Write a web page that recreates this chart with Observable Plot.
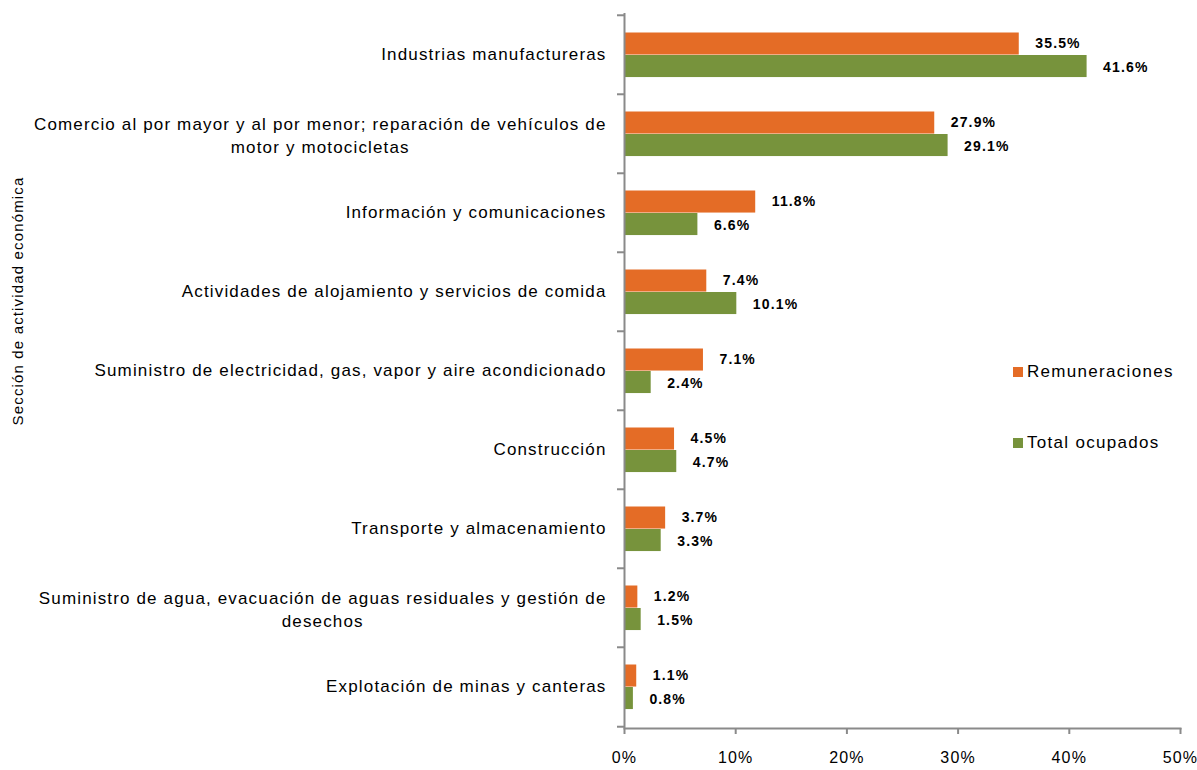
<!DOCTYPE html>
<html>
<head>
<meta charset="utf-8">
<script src="https://cdn.jsdelivr.net/npm/d3@7"></script>
<script src="https://cdn.jsdelivr.net/npm/@observablehq/plot@0.6"></script>
<style>
  body { margin: 0; background: #fff; }
  #wrap { position: relative; width: 1197px; height: 770px; }
  .legend { position: absolute; left: 1013px; font-family: "Liberation Sans", Arial, sans-serif; font-size: 17px; letter-spacing: 1.3px; color: #000; display: flex; align-items: center; }
  .legend span.sw { display: inline-block; width: 10px; height: 10px; margin-right: 4px; }
</style>
</head>
<body>
<div id="wrap"></div>
<script>
const categories = [
  "Industrias manufactureras",
  "Comercio al por mayor y al por menor; reparación de vehículos de\nmotor y motocicletas",
  "Información y comunicaciones",
  "Actividades de alojamiento y servicios de comida",
  "Suministro de electricidad, gas, vapor y aire acondicionado",
  "Construcción",
  "Transporte y almacenamiento",
  "Suministro de agua, evacuación de aguas residuales y gestión de\ndesechos",
  "Explotación de minas y canteras"
];
const remuneraciones = [35.5, 27.9, 11.8, 7.4, 7.1, 4.5, 3.7, 1.2, 1.1];
const totalOcupados = [41.6, 29.1, 6.6, 10.1, 2.4, 4.7, 3.3, 1.5, 0.8];
const seriesNames = ["Remuneraciones", "Total ocupados"];
const seriesColors = ["#E46C26", "#77933C"];
const xTicks = [0, 10, 20, 30, 40, 50];
const yTitle = "Sección de actividad económica";

const W = 1197, H = 770;
const mTop = 13, mBottom = 42, mLeft = 624, mRight = 17;
const step = (H - mTop - mBottom) / categories.length;
const gray = "#8A8A8A";
const labelFont = "Liberation Sans, Arial, sans-serif";
const labelSize = 17, labelSpacing = 1.15;

const rem = categories.map((c, i) => ({cat: c, serie: seriesNames[0], value: remuneraciones[i]}));
const ocu = categories.map((c, i) => ({cat: c, serie: seriesNames[1], value: totalOcupados[i]}));

// measure text for centred multi-line labels
const ctx = document.createElement("canvas").getContext("2d");
ctx.font = `${labelSize}px "Liberation Sans"`;
try { ctx.letterSpacing = labelSpacing + "px"; } catch (e) {}
function widthOf(s) { return ctx.measureText(s).width; }

const single = categories.filter(c => !c.includes("\n"));
const multi = categories.filter(c => c.includes("\n"));

const labelMarks = [
  Plot.text(single, {y: d => d, frameAnchor: "left", textAnchor: "end", dx: -18, fontSize: labelSize, fill: "#000"})
];
for (const c of multi) {
  const first = c.split("\n")[0];
  const w1 = widthOf(first);
  labelMarks.push(Plot.text([c], {y: d => d, frameAnchor: "left", textAnchor: "middle", dx: -18 - w1 / 2, fontSize: labelSize, lineHeight: 1.35, fill: "#000"}));
}

const chart = Plot.plot({
  width: W, height: H,
  marginTop: mTop, marginBottom: mBottom, marginLeft: mLeft, marginRight: mRight,
  style: {fontFamily: labelFont, fontSize: labelSize + "px", color: "#000", letterSpacing: labelSpacing + "px", background: "#fff"},
  x: {domain: [0, 50]},
  y: {domain: categories, padding: 0},
  marks: [
    Plot.barX(rem, {y: "cat", x: "value", fill: seriesColors[0], insetTop: 17.5, insetBottom: step - 40}),
    Plot.barX(ocu, {y: "cat", x: "value", fill: seriesColors[1], insetTop: 40, insetBottom: step - 62.5}),
    Plot.text(rem, {y: "cat", x: "value", text: d => d.value.toFixed(1) + "%", dx: 16, dy: -11, textAnchor: "start", fontWeight: "bold", fontSize: 14, letterSpacing: 0.3, fill: "#000"}),
    Plot.text(ocu, {y: "cat", x: "value", text: d => d.value.toFixed(1) + "%", dx: 16, dy: 13, textAnchor: "start", fontWeight: "bold", fontSize: 14, letterSpacing: 0.3, fill: "#000"}),
    Plot.ruleX([0], {stroke: gray, strokeWidth: 2}),
    Plot.frame({anchor: "bottom", stroke: gray, strokeWidth: 2}),
    Plot.axisX({ticks: xTicks, tickFormat: d => d + "%", tickSize: 6, tickPadding: 17, stroke: gray, strokeWidth: 2, fontSize: 16, label: null, letterSpacing: 0}),
    Plot.axisY({tickSize: 7, tickFormat: () => "", dy: -step / 2, stroke: gray, strokeWidth: 2, label: null}),
    Plot.axisY({ticks: [categories[categories.length - 1]], tickSize: 7, tickFormat: () => "", dy: step / 2, stroke: gray, strokeWidth: 2, label: null}),
    ...labelMarks,
    Plot.text([yTitle], {frameAnchor: "left", textAnchor: "middle", rotate: -90, dx: -606, dy: -70, fontSize: 15, letterSpacing: 0.3, fill: "#000"})
  ]
});

const wrap = document.getElementById("wrap");
wrap.appendChild(chart);

const legendTops = [362, 433];
seriesNames.forEach((name, i) => {
  const div = document.createElement("div");
  div.className = "legend";
  div.style.top = legendTops[i] + "px";
  div.innerHTML = `<span class="sw" style="background:${seriesColors[i]}"></span><span>${name}</span>`;
  wrap.appendChild(div);
});
</script>
</body>
</html>
